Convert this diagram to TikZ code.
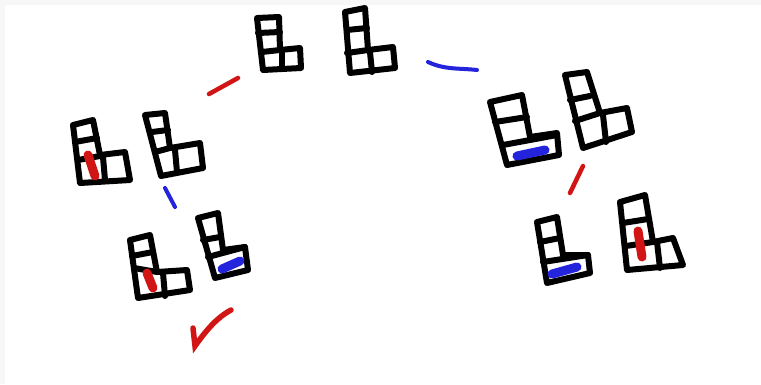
\documentclass[tikz,border=0pt]{standalone}
\usetikzlibrary{calc}
\definecolor{inkred}{HTML}{D11414}
\definecolor{inkblue}{HTML}{2424DD}
\definecolor{edgegray}{HTML}{F7F7F7}
\tikzset{
  blk/.style={draw=black, line width=6pt, line join=round, line cap=round},
  redmark/.style={draw=inkred, line width=9pt, line cap=round},
  bluemark/.style={draw=inkblue, line width=9pt, line cap=round},
  reddash/.style={draw=inkred, line width=4.5pt, line cap=round},
  bluedash/.style={draw=inkblue, line width=4pt, line cap=round},
  checkmark/.style={draw=inkred, line width=5.5pt, line cap=round, line join=miter},
}
\begin{document}
\begin{tikzpicture}[x=1pt,y=-1pt]
\useasboundingbox (0,0) rectangle (761,384);
\fill[edgegray] (0,0) rectangle (761,384);
\fill[white] (5,5) rectangle (761,384);

% ---- top pair ----
% A
\path[blk] (257,18) -- (279,17) -- (280,50) -- (300,48) -- (301,68) -- (263,70) -- cycle;
\path[blk] (258,33) -- (280,32);
\path[blk] (262,52) -- (280,50);
\path[blk] (282,50) -- (282,68);
% B
\path[blk] (345,12) -- (365,8) -- (368,50) -- (393,47) -- (395,68) -- (350,73) -- cycle;
\path[blk] (347,30) -- (367,28);
\path[blk] (347,53) -- (368,50);
\path[blk] (370,52) -- (372,72);

% ---- left pair ----
% C
\path[blk] (73,125) -- (93,120) -- (100,155) -- (125,152) -- (130,180) -- (80,183) -- cycle;
\path[blk] (75,142) -- (97,138);
\path[blk] (78,160) -- (100,156);
\path[blk] (103,157) -- (105,180);
\path[redmark] (88,155) -- (95,176);
% D
\path[blk] (145,115) -- (165,113) -- (170,148) -- (200,143) -- (203,168) -- (161,176) -- cycle;
\path[blk] (152,132) -- (168,130);
\path[blk] (155,152) -- (170,148);
\path[blk] (175,150) -- (177,172);

% ---- lower-left pair ----
% E
\path[blk] (130,240) -- (150,235) -- (157,272) -- (187,270) -- (190,290) -- (138,298) -- cycle;
\path[blk] (132,256) -- (153,252);
\path[blk] (134,268) -- (157,272);
\path[blk] (163,273) -- (165,296);
\path[redmark] (147,273) -- (153,288);
% F
\path[blk] (198,218) -- (218,213) -- (223,250) -- (245,247) -- (248,270) -- (215,278) -- cycle;
\path[blk] (203,240) -- (220,237);
\path[blk] (208,257) -- (245,247);
\path[bluemark] (222,269) -- (240,261);

% ---- upper-right pair ----
% G
\path[blk] (490,102) -- (522,95) -- (530,137) -- (557,133) -- (559,155) -- (507,165) -- cycle;
\path[blk] (495,122) -- (527,117);
\path[blk] (503,145) -- (557,135);
\path[bluemark] (517,156) -- (545,150);
% H
\path[blk] (565,75) -- (587,72) -- (600,113) -- (627,108) -- (632,132) -- (583,148) -- cycle;
\path[blk] (570,100) -- (590,96);
\path[blk] (575,121) -- (600,113);
\path[blk] (603,115) -- (606,142);

% ---- lower-right pair ----
% I
\path[blk] (537,222) -- (557,217) -- (563,255) -- (588,255) -- (590,273) -- (547,283) -- cycle;
\path[blk] (540,242) -- (560,238);
\path[blk] (543,262) -- (588,255);
\path[bluemark] (552,274) -- (577,267);
% J
\path[blk] (620,202) -- (645,195) -- (653,242) -- (673,238) -- (683,265) -- (627,270) -- cycle;
\path[blk] (623,223) -- (648,219);
\path[blk] (626,246) -- (653,242);
\path[blk] (657,242) -- (660,268);
\path[redmark] (638,231) -- (642,257);

% ---- connecting strokes ----
\path[reddash] (209,94) -- (238,78);
\path[bluedash] (428,62) .. controls (445,70) and (460,68) .. (477,70);
\path[bluedash] (165,188) -- (175,207);
\path[reddash] (570,193) -- (583,166);
\path[checkmark] (193,328) -- (195,346) .. controls (205,332) and (216,318) .. (231,310);
\end{tikzpicture}
\end{document}
